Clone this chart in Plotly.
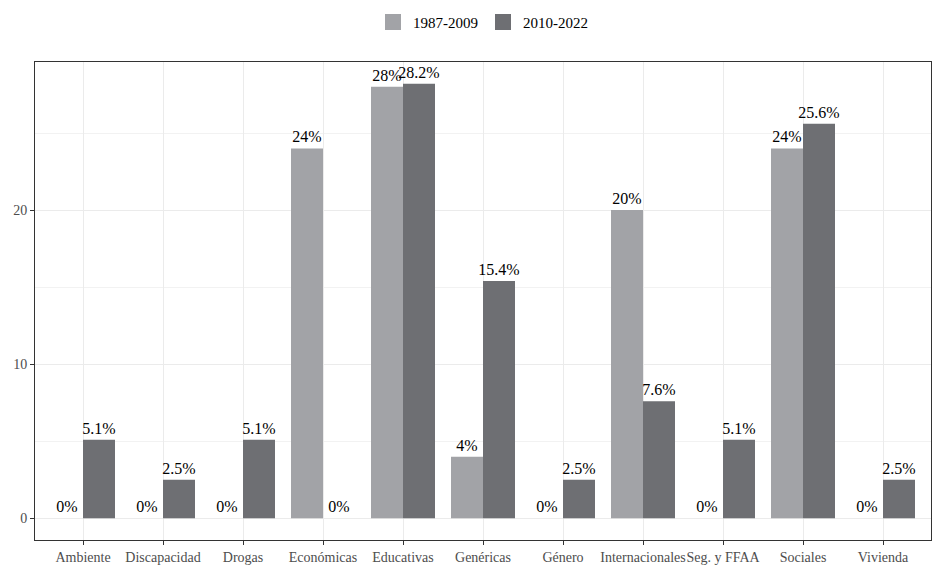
import plotly.graph_objects as go

categories = ["Ambiente", "Discapacidad", "Drogas", "Económicas", "Educativas", "Genéricas",
              "Género", "Internacionales", "Seg. y FFAA", "Sociales", "Vivienda"]
series_names = ["1987-2009", "2010-2022"]
values_1987_2009 = [0, 0, 0, 24, 28, 4, 0, 20, 0, 24, 0]
values_2010_2022 = [5.1, 2.5, 5.1, 0, 28.2, 15.4, 2.5, 7.6, 5.1, 25.6, 2.5]
y_ticks = [0, 10, 20]

colors = ["#A2A3A7", "#6E6F73"]
font_family = "Liberation Serif"


def fmt(v):
    return ("%g" % v) + "%"


fig = go.Figure()
for name, vals, col in zip(series_names, [values_1987_2009, values_2010_2022], colors):
    fig.add_trace(go.Bar(
        x=categories, y=vals, name=name, marker=dict(color=col, line=dict(width=0)),
        text=[fmt(v) for v in vals], textposition="outside", constraintext="none",
        textfont=dict(family=font_family, size=16, color="#000000"),
        outsidetextfont=dict(family=font_family, size=16, color="#000000"),
        cliponaxis=False, showlegend=False, legendgroup=name,
    ))
# legend keys (larger squares, like ggplot keys)
for name, col in zip(series_names, colors):
    fig.add_trace(go.Scatter(
        x=[None], y=[None], mode="markers", name=name, legendgroup=name,
        marker=dict(symbol="square", size=20, color=col, line=dict(width=0)),
        showlegend=True,
    ))

fig.update_layout(
    width=946, height=584,
    margin=dict(l=35, r=15, t=62, b=44, autoexpand=False),
    paper_bgcolor="white", plot_bgcolor="white",
    barmode="group", bargap=0.2, bargroupgap=0,
    uniformtext=dict(mode=False),
    font=dict(family=font_family, size=14, color="#4D4D4D"),
    legend=dict(orientation="h", x=0.5, xanchor="center", y=0.99, yanchor="top",
                yref="container", font=dict(family=font_family, size=15, color="#000000"),
                itemwidth=30, itemsizing="trace"),
    showlegend=True,
)

fig.update_xaxes(
    range=[-0.6, 10.6], showgrid=True, gridcolor="#EBEBEB", gridwidth=1,
    showline=True, mirror=True, linecolor="#333333", linewidth=1,
    ticks="outside", ticklen=4, tickcolor="#333333", tickangle=0, automargin=False,
    tickfont=dict(family=font_family, size=14, color="#4D4D4D"),
    zeroline=False, fixedrange=True,
)
fig.update_yaxes(
    range=[-1.41, 29.61], tickvals=y_ticks, showgrid=True, gridcolor="#EBEBEB", gridwidth=1,
    minor=dict(dtick=5, tick0=0, showgrid=True, gridcolor="#F2F2F2", gridwidth=1),
    showline=True, mirror=True, linecolor="#333333", linewidth=1,
    ticks="outside", ticklen=4, tickcolor="#333333", automargin=False,
    tickfont=dict(family=font_family, size=14, color="#4D4D4D"),
    zeroline=False, fixedrange=True,
)

fig.write_html("out.html", config={"displayModeBar": False},
               post_script="document.body.style.margin='0';")
